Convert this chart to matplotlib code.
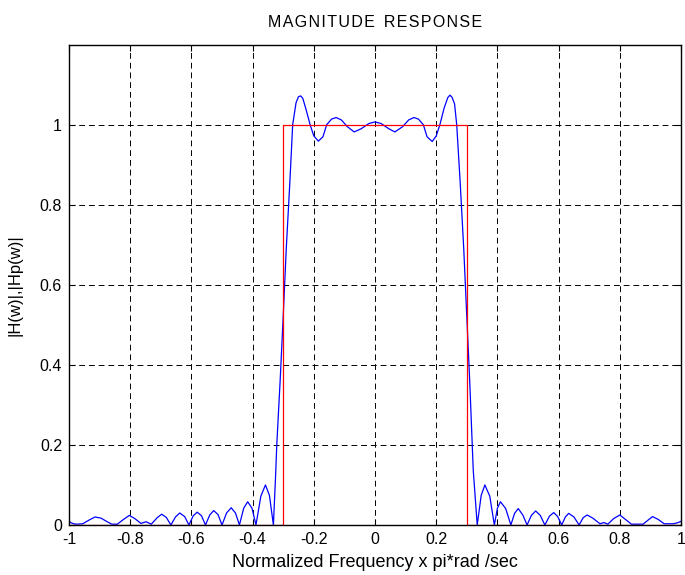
import matplotlib
matplotlib.use("Agg")
import matplotlib.pyplot as plt

plt.rcParams['font.family'] = ['Liberation Sans', 'DejaVu Sans']
plt.rcParams['axes.unicode_minus'] = False

# Normalized frequency (x pi rad/sec) and magnitude of the designed filter
freq = [-1.000, -0.985, -0.975, -0.955, -0.935, -0.915, -0.895, -0.875, -0.860, -0.842,
        -0.825, -0.803, -0.785, -0.765, -0.748, -0.731, -0.712, -0.697, -0.682, -0.667,
        -0.652, -0.638, -0.622, -0.608, -0.594, -0.581, -0.567, -0.554, -0.540, -0.527,
        -0.513, -0.500, -0.485, -0.470, -0.456, -0.443, -0.429, -0.416, -0.402, -0.389,
        -0.373, -0.358, -0.345, -0.332, -0.325, -0.321, -0.310, -0.300, -0.290, -0.278,
        -0.269, -0.258, -0.250, -0.243, -0.236, -0.226, -0.212, -0.200, -0.185, -0.170,
        -0.158, -0.142, -0.127, -0.110, -0.090, -0.068, -0.045, -0.020, 0.000,
        0.020, 0.045, 0.065, 0.090, 0.110, 0.127, 0.142, 0.158, 0.170, 0.187,
        0.200, 0.212, 0.226, 0.238, 0.245, 0.252, 0.260, 0.267, 0.278, 0.290,
        0.300, 0.310, 0.321, 0.334, 0.347, 0.359, 0.375, 0.390, 0.400, 0.410,
        0.427, 0.444, 0.456, 0.468, 0.483, 0.497, 0.511, 0.525, 0.540, 0.555,
        0.570, 0.584, 0.597, 0.610, 0.622, 0.633, 0.650, 0.667, 0.680, 0.693,
        0.712, 0.735, 0.748, 0.761, 0.780, 0.800, 0.818, 0.838, 0.857, 0.876,
        0.892, 0.907, 0.925, 0.945, 0.952, 0.976, 0.990, 1.000]
mag = [0.008, 0.003, 0.002, 0.003, 0.012, 0.020, 0.017, 0.008, 0.002, 0.002,
       0.012, 0.024, 0.016, 0.004, 0.008, 0.002, 0.018, 0.027, 0.019, 0.000,
       0.020, 0.030, 0.021, 0.000, 0.023, 0.032, 0.023, 0.000, 0.025, 0.036,
       0.026, 0.000, 0.030, 0.043, 0.030, 0.000, 0.042, 0.058, 0.042, 0.000,
       0.072, 0.100, 0.074, 0.000, 0.120, 0.200, 0.360, 0.520, 0.690, 0.860,
       1.000, 1.055, 1.070, 1.072, 1.066, 1.040, 1.000, 0.972, 0.959, 0.970,
       1.000, 1.014, 1.018, 1.012, 0.995, 0.982, 0.990, 1.003, 1.007,
       1.003, 0.990, 0.982, 0.995, 1.012, 1.018, 1.014, 1.000, 0.970, 0.958,
       0.972, 1.000, 1.042, 1.068, 1.074, 1.068, 1.052, 1.000, 0.860, 0.690,
       0.520, 0.350, 0.137, 0.000, 0.074, 0.100, 0.072, 0.000, 0.042, 0.058,
       0.041, 0.000, 0.029, 0.041, 0.025, 0.000, 0.024, 0.035, 0.024, 0.000,
       0.022, 0.031, 0.021, 0.000, 0.020, 0.029, 0.020, 0.000, 0.018, 0.025,
       0.017, 0.003, 0.006, 0.002, 0.016, 0.025, 0.014, 0.002, 0.002, 0.002,
       0.012, 0.021, 0.014, 0.003, 0.003, 0.003, 0.006, 0.009]

# Ideal lowpass response, cutoff 0.3 pi
ideal_freq = [-1.0, -0.3, -0.3, 0.3, 0.3, 1.0]
ideal_mag = [0.0, 0.0, 1.0, 1.0, 0.0, 0.0]

xticks = [-1, -0.8, -0.6, -0.4, -0.2, 0, 0.2, 0.4, 0.6, 0.8, 1]
xtick_labels = ['-1', '-0.8', '-0.6', '-0.4', '-0.2', '0', '0.2', '0.4', '0.6', '0.8', '1']
yticks = [0, 0.2, 0.4, 0.6, 0.8, 1]
ytick_labels = ['0', '0.2', '0.4', '0.6', '0.8', '1']


def spaced(text):
    # widen the letters a little with hair spaces
    return '  '.join('\u200a'.join(word) for word in text.split())


fig = plt.figure(figsize=(6.85, 5.75), dpi=100)
ax = fig.add_axes([0.1007, 0.0870, 0.8935, 0.8353])

ax.plot(freq, mag, color='#0000ff', linewidth=0.9)
ax.plot(ideal_freq, ideal_mag, color='#ff0000', linewidth=0.9)

ax.set_xlim(-1, 1)
ax.set_ylim(0, 1.2)
ax.set_xticks(xticks)
ax.set_xticklabels(xtick_labels)
ax.set_yticks(yticks)
ax.set_yticklabels(ytick_labels)
ax.tick_params(direction='in', length=4, width=0.8, labelsize=11.5,
               top=True, right=True, pad=5)
for spine in ax.spines.values():
    spine.set_linewidth(1.0)

ax.grid(True, color='black', linestyle=(0, (6, 4)), linewidth=0.7)
ax.set_axisbelow(True)

ax.set_title(spaced('MAGNITUDE RESPONSE'), fontsize=11.5, pad=13)
ax.set_xlabel('Normalized Frequency x pi*rad /sec', fontsize=13, labelpad=5)
ax.set_ylabel('|H(w)|,|Hp(w)|', fontsize=12, labelpad=12)

fig.savefig('out.png', dpi=100)
